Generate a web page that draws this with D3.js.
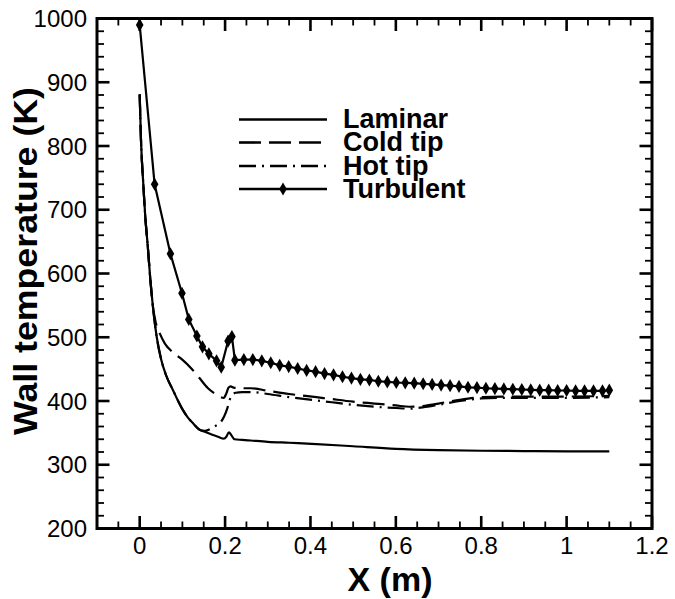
<!DOCTYPE html>
<html><head><meta charset="utf-8">
<script src="https://cdn.jsdelivr.net/npm/d3@7"></script>
<style>body{margin:0;background:#fff}</style>
</head><body>
<svg id="c" width="675" height="599"></svg>
<script>
// ---- data ----
const laminarX = [0, 0.003, 0.008, 0.013, 0.019, 0.025, 0.031, 0.04, 0.05, 0.062, 0.078, 0.09, 0.101, 0.113, 0.125, 0.14, 0.155, 0.17, 0.185, 0.197, 0.203, 0.209, 0.215, 0.222, 0.24, 0.26, 0.3, 0.35, 0.414, 0.5, 0.6, 0.7, 0.8, 0.9, 1.0, 1.1];
const laminarT = [881, 810, 745, 690, 642, 590, 548, 500, 466, 440, 417, 400, 386, 374, 365, 355, 351, 347, 343.5, 341, 344, 351, 346, 340, 339, 338, 336, 334.5, 332.5, 329, 325, 323, 322, 321.5, 321, 321];

const coldX = [0, 0.003, 0.008, 0.013, 0.019, 0.025, 0.031, 0.038, 0.047, 0.059, 0.075, 0.09, 0.101, 0.121, 0.14, 0.16, 0.175, 0.187, 0.197, 0.203, 0.208, 0.213, 0.22, 0.24, 0.26, 0.3, 0.35, 0.414, 0.45, 0.5, 0.55, 0.6, 0.632, 0.663, 0.7, 0.75, 0.8, 0.85, 0.9, 1.0, 1.1];
const coldT = [881, 810, 745, 690, 642, 590, 548, 522, 506, 490, 478, 470, 464, 451, 436, 420, 412, 407, 405, 412, 421, 423, 421, 420, 420, 416, 411, 406, 403, 399, 396, 393, 391, 392, 396, 402, 406, 407, 407, 407, 408];

const hotX = [0, 0.003, 0.008, 0.013, 0.019, 0.025, 0.031, 0.04, 0.05, 0.062, 0.078, 0.09, 0.101, 0.113, 0.125, 0.14, 0.152, 0.165, 0.178, 0.19, 0.198, 0.205, 0.211, 0.217, 0.225, 0.24, 0.26, 0.3, 0.35, 0.414, 0.45, 0.5, 0.55, 0.6, 0.632, 0.663, 0.7, 0.75, 0.8, 0.85, 0.9, 1.0, 1.1];
const hotT = [881, 810, 745, 690, 642, 590, 548, 500, 466, 440, 417, 400, 386, 374, 365, 355, 353, 356, 361, 367, 376, 388, 402, 410, 413, 414, 414, 411, 406, 401, 398, 394, 391, 389, 388, 390, 394, 400, 404, 405, 405, 405, 406];

const turbX = [0, 0.035, 0.072, 0.099, 0.115, 0.134, 0.147, 0.162, 0.18, 0.191, 0.207, 0.216, 0.223,
  0.244, 0.265, 0.286, 0.307, 0.328, 0.349, 0.37, 0.391, 0.412, 0.433, 0.454, 0.475, 0.496, 0.517, 0.538, 0.559, 0.58, 0.601, 0.622, 0.643, 0.664, 0.685, 0.706, 0.727, 0.748, 0.769, 0.79, 0.811, 0.832, 0.853, 0.874, 0.895, 0.916, 0.937, 0.958, 0.979, 1.0, 1.021, 1.042, 1.063, 1.084, 1.1];
const turbT = [990, 740, 631, 569, 528, 502, 485, 474, 463, 453, 494, 501, 464,
  465, 465, 463, 460, 456, 454, 451, 448, 446, 443, 441, 438, 436, 434, 433, 431, 430, 429, 428.5, 428, 427, 426, 425, 424, 423, 421.5, 421, 420, 419.5, 419, 418.5, 418, 417.5, 417, 417, 416.5, 416.5, 416, 416, 416, 416, 417];

const seriesNames = ["Laminar", "Cold tip", "Hot tip", "Turbulent"];
const xMajor = [0, 0.2, 0.4, 0.6, 0.8, 1, 1.2];
const xMajorLabels = ["0", "0.2", "0.4", "0.6", "0.8", "1", "1.2"];
const yMajor = [200, 300, 400, 500, 600, 700, 800, 900, 1000];
const yMajorLabels = ["200", "300", "400", "500", "600", "700", "800", "900", "1000"];
const xTitle = "X (m)";
const yTitle = "Wall temperature (K)";

// ---- layout ----
const W = 675, H = 599;
const L = 97, R = 652, T = 18.5, B = 528.5;
const FONT = "'Liberation Sans', Arial, Helvetica, sans-serif";
const svg = d3.select("#c");
svg.append("rect").attr("width", W).attr("height", H).attr("fill", "#fff");

const x = d3.scaleLinear().domain([-0.1, 1.2]).range([L, R]);
const y = d3.scaleLinear().domain([200, 1000]).range([B, T]);

svg.append("clipPath").attr("id", "clp").append("rect")
  .attr("x", L).attr("y", T).attr("width", R - L).attr("height", B - T);

const g = svg.append("g").attr("clip-path", "url(#clp)");
function zip(xs, ys) { return xs.map((v, i) => [v, ys[i]]); }
const smooth = d3.line().x(d => x(d[0])).y(d => y(d[1])).curve(d3.curveMonotoneX);
const straight = d3.line().x(d => x(d[0])).y(d => y(d[1]));

const styles = {
  "Laminar": {dash: null},
  "Cold tip": {dash: "22,8"},
  "Hot tip": {dash: "17,6,2,6"},
  "Turbulent": {dash: null}
};

g.append("path").attr("d", smooth(zip(laminarX, laminarT))).attr("fill", "none").attr("stroke", "#000").attr("stroke-width", 2.2);
g.append("path").attr("d", smooth(zip(hotX, hotT))).attr("fill", "none").attr("stroke", "#000").attr("stroke-width", 2.2).attr("stroke-dasharray", styles["Hot tip"].dash);
g.append("path").attr("d", smooth(zip(coldX, coldT))).attr("fill", "none").attr("stroke", "#000").attr("stroke-width", 2.2).attr("stroke-dasharray", styles["Cold tip"].dash);
g.append("path").attr("d", straight(zip(turbX, turbT))).attr("fill", "none").attr("stroke", "#000").attr("stroke-width", 2.2);
const diamond = d3.symbol().type(d3.symbolDiamond).size(50);
svg.append("g").selectAll("path").data(zip(turbX, turbT)).join("path")
  .attr("d", diamond).attr("transform", d => `translate(${x(d[0])},${y(d[1])})`).attr("fill", "#000");

// ---- axes (ticks inward on all four sides) ----
const xMinor = d3.range(-0.1, 1.2001, 0.05).map(v => +v.toFixed(3));
const yMinor = d3.range(200, 1000.1, 20);
const MAJ = 12.5, MIN = 7;
const ax = svg.append("g").attr("stroke", "#000");
xMinor.forEach(v => {
  const isMaj = xMajor.some(m => Math.abs(m - v) < 1e-6);
  const len = isMaj ? MAJ : MIN;
  ax.append("line").attr("x1", x(v)).attr("x2", x(v)).attr("y1", B).attr("y2", B - len).attr("stroke-width", isMaj ? 2.6 : 1.8);
  ax.append("line").attr("x1", x(v)).attr("x2", x(v)).attr("y1", T).attr("y2", T + len).attr("stroke-width", isMaj ? 2.6 : 1.8);
});
yMinor.forEach(v => {
  const isMaj = yMajor.includes(v);
  const len = isMaj ? MAJ : MIN;
  ax.append("line").attr("y1", y(v)).attr("y2", y(v)).attr("x1", L).attr("x2", L + len).attr("stroke-width", isMaj ? 2.6 : 1.8);
  ax.append("line").attr("y1", y(v)).attr("y2", y(v)).attr("x1", R).attr("x2", R - len).attr("stroke-width", isMaj ? 2.6 : 1.8);
});
svg.append("rect").attr("x", L).attr("y", T).attr("width", R - L).attr("height", B - T)
  .attr("fill", "none").attr("stroke", "#000").attr("stroke-width", 3);

// tick labels
svg.append("g").selectAll("text").data(xMajor).join("text")
  .attr("x", d => x(d)).attr("y", B + 25).attr("text-anchor", "middle")
  .attr("font-family", FONT).attr("font-size", 24).text((d, i) => xMajorLabels[i]);
svg.append("g").selectAll("text").data(yMajor).join("text")
  .attr("x", L - 10).attr("y", d => y(d) + 8.5).attr("text-anchor", "end")
  .attr("font-family", FONT).attr("font-size", 24).text((d, i) => yMajorLabels[i]);

// titles
svg.append("text").attr("x", 390).attr("y", 591).attr("text-anchor", "middle")
  .attr("font-family", FONT).attr("font-weight", "bold").attr("font-size", 34).text(xTitle);
svg.append("text").attr("transform", "translate(37,261) rotate(-90)").attr("text-anchor", "middle")
  .attr("font-family", FONT).attr("font-weight", "bold").attr("font-size", 34)
  .attr("textLength", 348).attr("lengthAdjust", "spacingAndGlyphs").text(yTitle);

// legend
const legRows = [119.5, 142.5, 166, 189];
const lg = svg.append("g");
seriesNames.forEach((name, i) => {
  const yy = legRows[i];
  lg.append("line").attr("x1", 239).attr("x2", 327).attr("y1", yy).attr("y2", yy)
    .attr("stroke", "#000").attr("stroke-width", 2.6).attr("stroke-dasharray", styles[name].dash);
  if (name === "Turbulent") {
    lg.append("path").attr("d", diamond).attr("transform", `translate(283,${yy})`).attr("fill", "#000");
  }
  lg.append("text").attr("x", 343).attr("y", yy + 8.5).attr("font-family", FONT)
    .attr("font-weight", "bold").attr("font-size", 27).text(name);
});
</script>
</body></html>
